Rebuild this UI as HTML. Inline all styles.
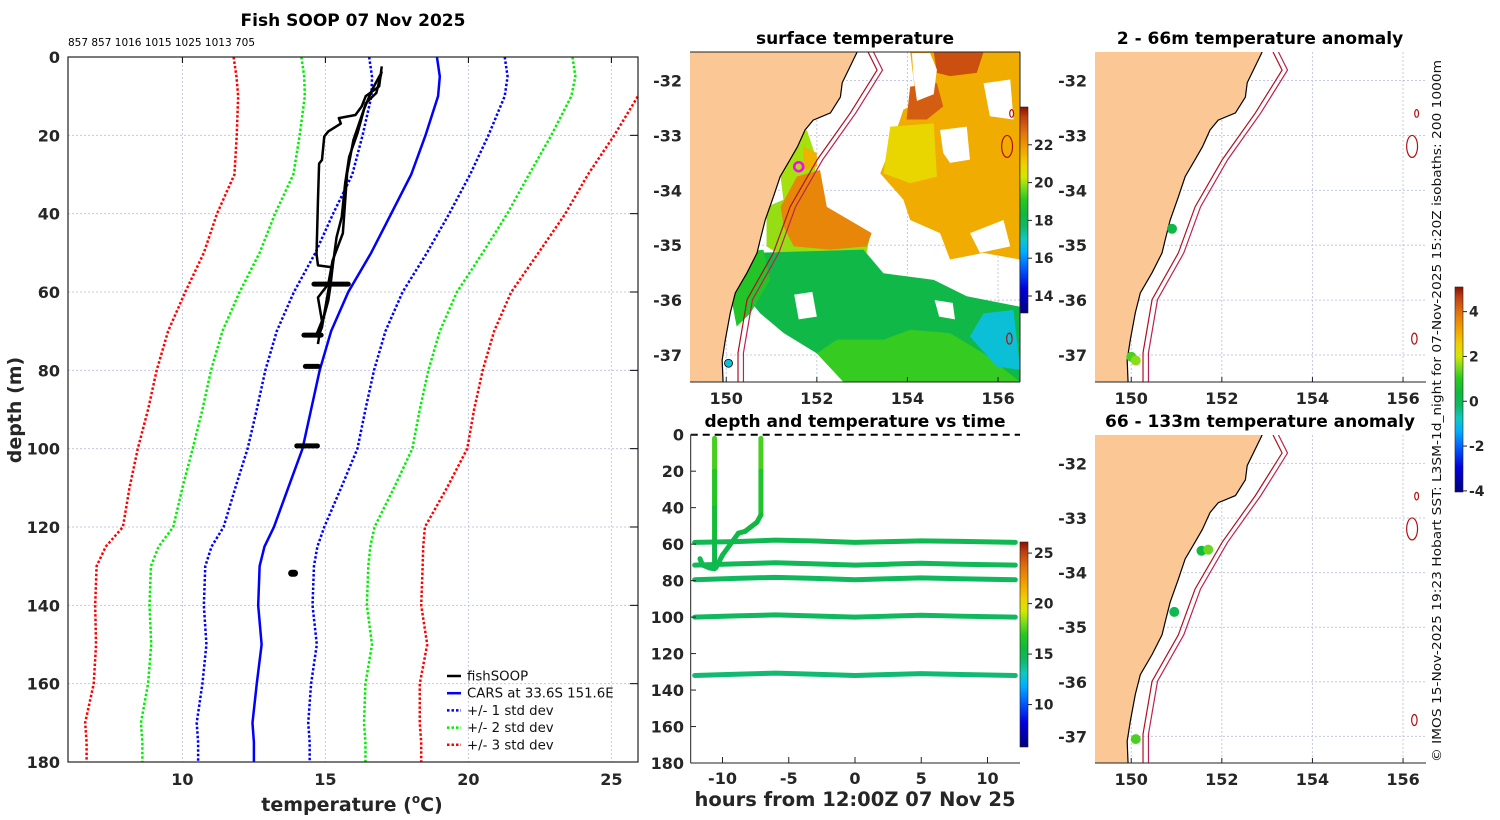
<!DOCTYPE html>
<html><head><meta charset="utf-8"><title>Fish SOOP 07 Nov 2025</title>
<style>
html,body{margin:0;padding:0;background:#fff;}
svg{display:block;font-family:"DejaVu Sans","Liberation Sans",sans-serif;}
.tk{font-weight:bold;fill:#262626;}
.ttl{font-size:17px;font-weight:bold;fill:#000;}
</style></head>
<body>
<svg id="fig" width="1500" height="820" viewBox="0 0 1500 820" xmlns="http://www.w3.org/2000/svg">
<defs>
<clipPath id="clipL"><rect x="68" y="57" width="570" height="705"/></clipPath>
<clipPath id="clipM"><rect x="690" y="52" width="330" height="330"/></clipPath>
<clipPath id="clipR1"><rect x="1095" y="52" width="331" height="330"/></clipPath>
<clipPath id="clipR2"><rect x="1095" y="435" width="331" height="328"/></clipPath>
<clipPath id="clipT"><rect x="690" y="434" width="332" height="329"/></clipPath>
</defs>
<text class="ttl" x="353" y="26" text-anchor="middle">Fish SOOP 07 Nov 2025</text>
<text x="68" y="46" font-size="10.5" fill="#000">857 857 1016 1015 1025 1013 705</text>
<text class="tk" x="0" y="0" transform="translate(21,410) rotate(-90)" text-anchor="middle" font-size="19">depth (m)</text>
<text class="tk" x="352" y="811" text-anchor="middle" font-size="19">temperature (<tspan font-size="12" dy="-8">o</tspan><tspan dy="8">C)</tspan></text>
<text class="ttl" x="855" y="44" text-anchor="middle">surface temperature</text>
<text class="ttl" x="855" y="427" text-anchor="middle">depth and temperature vs time</text>
<text class="tk" x="855" y="806" text-anchor="middle" font-size="19.5">hours from 12:00Z 07 Nov 25</text>
<text class="ttl" x="1260" y="44" text-anchor="middle">2 - 66m temperature anomaly</text>
<text class="ttl" x="1260" y="427" text-anchor="middle">66 - 133m temperature anomaly</text>
<text x="0" y="0" transform="translate(1441,411) rotate(-90)" text-anchor="middle" font-size="12.5" fill="#111" textLength="702" lengthAdjust="spacingAndGlyphs">© IMOS 15-Nov-2025 19:23 Hobart SST: L3SM-1d_night for 07-Nov-2025 15:20Z isobaths: 200  1000m</text>
<g id="gL"></g><g id="gM"></g><g id="gT"></g><g id="gR"></g>
</svg>
<script>
// ---------- profile chart data ----------
const depthLevels = [0,5,10,20,30,40,50,60,70,80,90,100,110,120,125,130,140,150,160,170,175,180];
const carsMean = [18.9,19.0,18.94,18.5,18.0,17.3,16.6,15.8,15.2,14.8,14.5,14.2,13.7,13.2,12.87,12.7,12.65,12.77,12.6,12.45,12.5,12.5];
const carsStd = [2.37,2.37,2.33,2.2,2.06,2.03,1.95,1.9,1.9,1.9,1.9,1.92,1.85,1.76,1.85,1.9,1.9,1.93,1.9,1.95,1.95,1.95];
const fishT1 = [16.97,16.88,16.41,16.27,16.05,15.47,15.54,15.1,14.96,14.88,14.78,14.74,14.69,14.74,15.25,15.17,15.1,14.81,14.74];
const fishD1 = [2.4,7.5,10,12.6,14.8,15.6,17,19,20.3,26.3,27.2,36.6,50.3,53.2,53.7,58.8,62.2,70,73.3];
const fishT2 = [16.97,16.78,16.41,16.12,15.83,15.69,15.57,15.39,15.25,15.1,14.96,14.88,14.74];
const fishD2 = [3.7,9.2,11.8,19.5,25.5,32.3,40.9,46,53.7,59.7,65.6,69,71.6];
const fishT3 = [16.92,16.63,16.34,15.98,15.76,15.66,15.61,15.25,15.1,14.74,14.88,14.69];
const fishD3 = [4.5,8.4,13.5,21.2,29.7,40,45,52,58,61.4,67.4,70.8];
const blobDepth = [58,71,79,99.3,131.8];
const blobTmin = [14.6,14.25,14.3,14.0,13.82];
const blobTmax = [15.8,14.85,14.75,14.72,13.92];
const xTicks = [10,15,20,25];
const yTicks = [0,20,40,60,80,100,120,140,160,180];
const legendLabels = ['fishSOOP','CARS at 33.6S 151.6E','+/- 1 std dev','+/- 2 std dev','+/- 3 std dev'];

// ---------- time panel data ----------
const trackHours = [-12.1,-9,-6,-3,0,2.5,5,8,12.1];
const track1Depth = [59,58.6,57.8,58.3,59,58.6,58.2,58.5,59];
const track2Depth = [71.5,70.8,70.2,70.8,71.5,71,70.5,71,71.5];
const track3Depth = [79.5,78.8,78.2,78.8,79.5,79,78.5,79,79.5];
const track4Depth = [100,99.3,98.8,99.4,100,99.5,99,99.5,100];
const track5Depth = [132,131.3,130.7,131.3,132,131.5,131,131.5,132];
const trackTemp = [15.0,14.8,14.7,14.6,14.2];
const prof1Hours = [-10.6,-10.6,-10.6,-10.6,-10.6];
const prof1Depth = [2,20,40,58,73];
const prof1Temp = [17.6,17.2,16.4,15.4,15.0];
const prof2Hours = [-7.1,-7.1,-7.1,-7.4,-8.3,-8.8,-9.3,-10.0,-10.5];
const prof2Depth = [2,20,44,48,53,54,59,66,73];
const prof2Temp = [17.8,17.0,16.0,15.6,15.5,15.4,15.3,15.2,15.0];
const curlHours = [-11.7,-11.5,-11.0,-10.6];
const curlDepth = [68,71.5,73,73.5];
const hourTicks = [-10,-5,0,5,10];
const timeDepthTicks = [0,20,40,60,80,100,120,140,160,180];
const timeCbTicks = [10,15,20,25];

// ---------- map data ----------
const coastLon = [152.89,152.56,152.52,152.30,151.92,151.74,151.57,151.41,151.19,151.04,150.86,150.75,150.68,150.46,150.20,150.09,149.98,149.91,149.93];
const coastLat = [-31.48,-32.04,-32.30,-32.59,-32.72,-32.90,-33.21,-33.44,-33.75,-34.12,-34.54,-34.90,-35.14,-35.50,-35.87,-36.23,-36.72,-37.09,-37.49];
const isoLon = [153.13,153.33,152.74,152.01,151.41,151.04,150.46,150.26,150.26];
const isoLat = [-31.48,-31.81,-32.59,-33.44,-34.30,-35.14,-35.99,-36.96,-37.49];
const islandLon = [156.3,156.2,156.25];
const islandLat = [-32.6,-33.2,-36.7];
const islandSize = [0.07,0.2,0.1];
const lonTicks = [150,152,154,156];
const latTicks = [-32,-33,-34,-35,-36,-37];
const sstTicks = [14,16,18,20,22];
const anomTicks = [-4,-2,0,2,4];
const sstPatches = [
 ['sst-ne-warm',21.6,[154.06,156.49,156.49,155.68,154.94,154.72,154.06,153.91,153.4,153.58,153.76,153.91,154.2],[-31.48,-31.48,-35.26,-35.14,-35.26,-34.78,-34.54,-34.17,-33.69,-33.32,-32.90,-32.53,-32.41]],
 ['sst-ne-hot-a',23.2,[154.58,155.68,155.53,154.94,154.65],[-31.48,-31.48,-31.86,-31.92,-31.86]],
 ['sst-ne-hot-b',23.0,[154.06,154.65,154.79,154.43,153.98],[-32.11,-32.05,-32.47,-32.71,-32.71]],
 ['sst-ne-yellow',20.8,[153.62,154.58,154.65,154.06,153.47],[-32.84,-32.78,-33.75,-33.87,-33.69]],
 ['sst-yellow-band',19.9,[150.89,151.27,153.17,153.1,151.12,150.89],[-34.3,-34.17,-34.84,-35.14,-35.14,-35.02]],
 ['sst-coast-yellow',20.0,[151.41,151.78,152.0,151.85,151.27,151.2],[-33.2,-32.9,-33.44,-34.3,-34.23,-33.75]],
 ['sst-coast-orange',21.5,[151.7,152.0,152.0,151.7],[-33.2,-33.32,-33.57,-33.63]],
 ['sst-tongue',22.3,[151.56,152.07,152.22,153.21,153.1,152.29,151.49,151.27,151.2],[-33.75,-33.63,-34.3,-34.78,-35.02,-35.08,-35.02,-34.66,-34.3]],
 ['sst-south-green',18.2,[150.53,153.03,153.47,154.58,155.31,156.49,156.49,152.59,152.0,151.27,150.75,150.38,150.16],[-35.14,-35.08,-35.51,-35.63,-35.93,-36.12,-37.49,-37.49,-36.97,-36.6,-36.24,-35.87,-35.75]],
 ['sst-coast-green',18.9,[150.23,150.82,150.97,150.53,150.23,150.09],[-35.14,-35.08,-35.63,-36.24,-36.48,-35.87]],
 ['sst-south-light',19.2,[152.44,153.47,154.06,154.94,155.68,156.49,152.59,152.0],[-36.72,-36.72,-36.54,-36.6,-36.97,-37.49,-37.49,-36.97]],
 ['sst-teal',16.8,[155.68,156.34,156.49,155.97,155.38],[-36.24,-36.18,-37.27,-37.21,-36.66]]
];
const sstHoles = [
 [[154.1,154.5,154.65,154.58,154.21,154.13],[-31.5,-31.5,-31.8,-32.25,-32.37,-31.9]],
 [[154.72,155.31,155.38,154.94,154.79],[-32.9,-32.84,-33.44,-33.5,-33.32]],
 [[155.68,156.27,156.34,155.82],[-32.05,-31.98,-32.71,-32.65]],
 [[155.38,156.12,156.27,155.6],[-34.78,-34.54,-35.02,-35.14]],
 [[154.6,155.0,155.05,154.7],[-36.0,-36.05,-36.35,-36.3]],
 [[151.5,151.9,152.0,151.6],[-35.9,-35.85,-36.3,-36.35]]
];
const ringLon = 151.6, ringLat = -33.57;
const sstDotLon = [150.05], sstDotLat = [-37.15], sstDotT = [16.8];
const anomTopLon = [150.9,150.0,150.1], anomTopLat = [-34.7,-37.03,-37.1], anomTopVal = [0.2,1.2,1.6];
const anomBotLon = [151.55,151.7,150.95,150.1], anomBotLat = [-33.6,-33.58,-34.72,-37.05], anomBotVal = [0.4,1.4,0.1,1.2];

// ---------- helpers ----------
const NS='http://www.w3.org/2000/svg';
function mk(tag, parent){const e=document.createElementNS(NS,tag);parent.appendChild(e);return e;}
function sa(e,o){for(const k in o)e.setAttribute(k,o[k]);return e;}
const stops=[[0,'#00007f'],[0.12,'#0000e0'],[0.22,'#0060ff'],[0.3,'#00b0ff'],[0.36,'#10c8c0'],[0.42,'#10b868'],[0.48,'#10b840'],[0.55,'#28c820'],[0.6,'#70d820'],[0.66,'#d0e800'],[0.72,'#f0d000'],[0.8,'#f0a000'],[0.88,'#e07010'],[0.95,'#c04010'],[1,'#8a1000']];
function hex(c){return [1,3,5].map(i=>parseInt(c.substr(i,2),16));}
function cmap(v,lo,hi){let t=(v-lo)/(hi-lo);t=Math.max(0,Math.min(1,t));for(let i=1;i<stops.length;i++){if(t<=stops[i][0]){const a=hex(stops[i-1][1]),b=hex(stops[i][1]);const f=(t-stops[i-1][0])/(stops[i][0]-stops[i-1][0]);return 'rgb('+a.map((x,j)=>Math.round(x+(b[j]-x)*f)).join(',')+')';}}return stops[stops.length-1][1];}
const defs=document.querySelector('defs');
function gradient(id){const g=sa(mk('linearGradient',defs),{id:id,x1:0,y1:1,x2:0,y2:0});stops.forEach(s=>sa(mk('stop',g),{offset:s[0],'stop-color':s[1]}));}
gradient('cmapGrad');

// ---------- profile chart ----------
const gL=document.getElementById('gL');
const xT=T=>68+(T-6)*28.6;
const yD=d=>57+d*3.9167;
xTicks.forEach(v=>{
 let l=sa(mk('line',gL),{x1:xT(v),x2:xT(v),y1:57,y2:762,stroke:'#c4c8e4','stroke-width':1,'stroke-dasharray':'2 2'});
 
 
 let t=sa(mk('text',gL),{x:xT(v),y:785,'text-anchor':'middle','class':'tk','font-size':16});t.textContent=v;
 
 
 sa(mk('line',gL),{x1:xT(v),x2:xT(v),y1:57,y2:63,stroke:'#000'});
});
yTicks.forEach(v=>{
 if(v>0&&v<180){let l=sa(mk('line',gL),{x1:68,x2:638,y1:yD(v),y2:yD(v),stroke:'#c4c8e4','stroke-width':1,'stroke-dasharray':'2 2'});
 
 }
 sa(mk('line',gL),{x1:630,x2:638,y1:yD(v),y2:yD(v),stroke:'#000'});
 let t=sa(mk('text',gL),{x:60,y:yD(v)+6,'text-anchor':'end','class':'tk','font-size':16});t.textContent=v;
 
 
});
const pc=sa(mk('g',gL),{'clip-path':'url(#clipL)'});
function line(parent,xs,ys,style){return sa(mk('polyline',parent),Object.assign({points:xs.map((x,i)=>x+','+ys[i]).join(' '),fill:'none'},style));}
const sdColors=['#0000ff','#00ee00','#ff0000'];
[3,2,1].forEach(k=>{
 [-1,1].forEach(s=>{
  const e=line(pc,carsMean.map((m,i)=>xT(m+s*k*carsStd[i])),depthLevels.map(yD),{stroke:sdColors[k-1],'stroke-width':2.5,'stroke-dasharray':'2.5 2'});
  
  
 });
});
let meanLine=line(pc,carsMean.map(xT),depthLevels.map(yD),{stroke:'#0000ff','stroke-width':2.5});


[[fishT1,fishD1],[fishT2,fishD2],[fishT3,fishD3]].forEach((p,i)=>{
 const e=line(pc,p[0].map(xT),p[1].map(yD),{stroke:'#000','stroke-width':2.5,'stroke-linejoin':'round'});
 
 
});
blobDepth.forEach((d,i)=>{
 const e=sa(mk('line',pc),{x1:xT(blobTmin[i]),x2:xT(blobTmax[i]),y1:yD(d),y2:yD(d),stroke:'#000','stroke-width':i==4?7:5,'stroke-linecap':'round'});
 
 
});
sa(mk('rect',gL),{x:68,y:57,width:570,height:705,fill:'none',stroke:'#222','stroke-width':1.2});
legendLabels.forEach((lab,i)=>{
 const y=676+i*17.2;
 const st=i<2?{}:{'stroke-dasharray':'2.5 2'};
 const col=['#000','#0000ff','#0000ff','#00ee00','#ff0000'][i];
 const l=sa(mk('line',gL),Object.assign({x1:447,x2:461,y1:y,y2:y,stroke:col,'stroke-width':2.5},st));
 
 
 const t=sa(mk('text',gL),{x:467,y:y+4.5,'font-size':13.3,fill:'#111'});t.textContent=lab;
 
 
});

// ---------- map drawing ----------
function drawMap(parent,clip,X,Y,top,bottom,left,right,prefix,withSst){
 const g=sa(mk('g',parent),{'clip-path':'url(#'+clip+')'});
 lonTicks.forEach(v=>{const l=sa(mk('line',g),{x1:X(v),x2:X(v),y1:top,y2:bottom,stroke:'#c4c8e4','stroke-dasharray':'2 2'});
  
  });
 latTicks.forEach(v=>{const l=sa(mk('line',g),{x1:left,x2:right,y1:Y(v),y2:Y(v),stroke:'#c4c8e4','stroke-dasharray':'2 2'});
  
  });
 if(withSst){
  sstPatches.forEach(p=>{const e=sa(mk('polygon',g),{points:p[2].map((lo,i)=>X(lo)+','+Y(p[3][i])).join(' '),fill:cmap(p[1],13.1,24)});
   
   });
  sstHoles.forEach(h=>{const e=sa(mk('polygon',g),{points:h[0].map((lo,i)=>X(lo)+','+Y(h[1][i])).join(' '),fill:'#fff'});
   
   });
 }
 const landPts=coastLon.map((lo,i)=>X(lo)+','+Y(coastLat[i])).concat([X(149.0)+','+Y(-37.6),X(149.0)+','+Y(-31.4)]);
 const land=sa(mk('polygon',g),{points:landPts.join(' '),fill:'#fbc895',stroke:'none'});
 
 
 const coast=line(g,coastLon.map(X),coastLat.map(Y),{stroke:'#000','stroke-width':1.2});
 
 
 const iso1=line(g,isoLon.map(X),isoLat.map(Y),{stroke:'#b01020','stroke-width':1.2});
 
 
 const iso2=line(g,isoLon.map(v=>X(v+0.12)),isoLat.map(Y),{stroke:'#c02050','stroke-width':1.2});
 
 
 islandLon.forEach((lo,i)=>{const e=sa(mk('ellipse',g),{cx:X(lo),cy:Y(islandLat[i]),rx:islandSize[i]*45.3*0.6,ry:islandSize[i]*54.9,fill:'none',stroke:'#b01010','stroke-width':1.2});
  
  });
 sa(mk('line',parent),{x1:left,x2:right,y1:bottom,y2:bottom,stroke:'#222'});
 if(withSst){sa(mk('line',parent),{x1:left,x2:right,y1:top,y2:top,stroke:'#222'});sa(mk('line',parent),{x1:right,x2:right,y1:top,y2:bottom,stroke:'#222'});}
 lonTicks.forEach(v=>{sa(mk('line',parent),{x1:X(v),x2:X(v),y1:bottom-5,y2:bottom,stroke:'#222'});
  const t=sa(mk('text',parent),{x:X(v),y:bottom+22,'text-anchor':'middle','class':'tk','font-size':16});t.textContent=v;
  
  });
 latTicks.forEach(v=>{
  const t=sa(mk('text',parent),{x:left-8,y:Y(v)+6,'text-anchor':'end','class':'tk','font-size':16});t.textContent=v;
  
  });
 return g;
}
function colorbar(parent,x,y0,y1,lo,hi,ticks,name){
 const r=sa(mk('rect',parent),{x:x,y:y0,width:8,height:y1-y0,fill:'url(#cmapGrad)',stroke:'#222','stroke-width':0.6});
 
 
 ticks.forEach(v=>{const yy=y1-(v-lo)/(hi-lo)*(y1-y0);
  sa(mk('line',parent),{x1:x+8,x2:x+12,y1:yy,y2:yy,stroke:'#222'});
  const t=sa(mk('text',parent),{x:x+14,y:yy+5,'class':'tk','font-size':14});t.textContent=v;
  
  });
}
const gM=document.getElementById('gM');
const mX=lon=>690+(lon-149.2)*45.3, mY=lat=>52+(-31.48-lat)*54.9;
const mg=drawMap(gM,'clipM',mX,mY,52,382,690,1020,'sst',true);
const ring=sa(mk('circle',mg),{cx:mX(ringLon),cy:mY(ringLat),r:4.5,fill:'none',stroke:'#ff00ff','stroke-width':2.5});


sstDotLon.forEach((lo,i)=>{const d=sa(mk('circle',mg),{cx:mX(lo),cy:mY(sstDotLat[i]),r:4,fill:cmap(sstDotT[i],13.1,24),stroke:'#000','stroke-width':0.8});
 
 });
colorbar(gM,1020,107,313,13.1,24,sstTicks,'sst-colorbar');

const gR=document.getElementById('gR');
const rX=lon=>1095+(lon-149.2)*45.3;
const r1Y=lat=>52+(-31.48-lat)*54.9;
const r2Y=lat=>435+(-31.48-lat)*54.6;
const rg1=drawMap(gR,'clipR1',rX,r1Y,52,382,1095,1426,'anom-top',false);
const rg2=drawMap(gR,'clipR2',rX,r2Y,435,763,1095,1426,'anom-bottom',false);
anomTopLon.forEach((lo,i)=>{const d=sa(mk('circle',rg1),{cx:rX(lo),cy:r1Y(anomTopLat[i]),r:5,fill:cmap(anomTopVal[i],-4.05,5.1)});
 
 });
anomBotLon.forEach((lo,i)=>{const d=sa(mk('circle',rg2),{cx:rX(lo),cy:r2Y(anomBotLat[i]),r:5,fill:cmap(anomBotVal[i],-4.05,5.1)});
 
 });
colorbar(gR,1455,287,492,-4.05,5.1,anomTicks,'anomaly-colorbar');

// ---------- time panel ----------
const gT=document.getElementById('gT');
const hX=h=>690.7+(h+12.4)*13.25, tY=d=>434.7+d*1.824;
const tc=sa(mk('g',gT),{'clip-path':'url(#clipT)'});
[track1Depth,track2Depth,track3Depth,track4Depth,track5Depth].forEach((dp,i)=>{
 const e=line(tc,trackHours.map(hX),dp.map(tY),{stroke:cmap(trackTemp[i],5.8,26.1),'stroke-width':5,'stroke-linecap':'round','stroke-linejoin':'round'});
 
 
});
function segs(hs,ds,ts,name){
 for(let i=0;i<hs.length-1;i++){
  const e=sa(mk('line',tc),{x1:hX(hs[i]),y1:tY(ds[i]),x2:hX(hs[i+1]),y2:tY(ds[i+1]),stroke:cmap((ts[i]+ts[i+1])/2,5.8,26.1),'stroke-width':5,'stroke-linecap':'round'});
  
  
 }
}
segs(prof1Hours,prof1Depth,prof1Temp,'profile-cast-1');
segs(prof2Hours,prof2Depth,prof2Temp,'profile-cast-2');
segs(curlHours,curlDepth,[15,15,15,15],'profile-cast-curl');
sa(mk('line',gT),{x1:690.7,x2:1020,y1:434.7,y2:434.7,stroke:'#000','stroke-width':2,'stroke-dasharray':'7 5'});
sa(mk('line',gT),{x1:690.7,x2:690.7,y1:434.7,y2:763,stroke:'#222'});
sa(mk('line',gT),{x1:690.7,x2:1020,y1:763,y2:763,stroke:'#222'});
hourTicks.forEach(v=>{sa(mk('line',gT),{x1:hX(v),x2:hX(v),y1:757,y2:763,stroke:'#222'});
 const t=sa(mk('text',gT),{x:hX(v),y:784,'text-anchor':'middle','class':'tk','font-size':16});t.textContent=v;
 
 });
timeDepthTicks.forEach(v=>{sa(mk('line',gT),{x1:690.7,x2:696,y1:tY(v),y2:tY(v),stroke:'#222'});
 const t=sa(mk('text',gT),{x:684,y:tY(v)+6,'text-anchor':'end','class':'tk','font-size':16});t.textContent=v;
 
 });
colorbar(gT,1020,542,747,5.8,26.1,timeCbTicks,'time-colorbar');
</script>
</body></html>
